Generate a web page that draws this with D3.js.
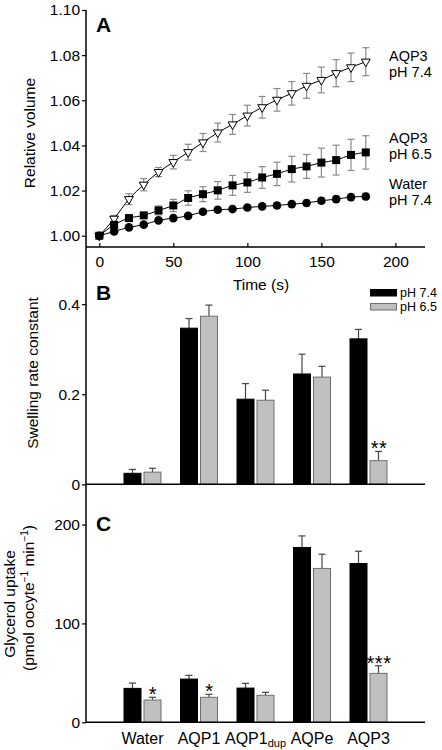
<!DOCTYPE html>
<html><head><meta charset="utf-8">
<script src="https://cdn.jsdelivr.net/npm/d3@7"></script>
<style>
html,body{margin:0;padding:0;background:#fff;}
svg{display:block;font-family:"Liberation Sans",Arial,Helvetica,sans-serif;}
</style></head>
<body><svg id="c" width="442" height="750"></svg>
<script>
// ---- Panel A data ----
const time = [0,10,20,30,40,50,60,70,80,90,100,110,120,130,140,150,160,170,180];
const aqp3_74 = [1.0000,1.0075,1.0162,1.0226,1.0282,1.0326,1.0370,1.0413,1.0457,1.0493,1.0532,1.0569,1.0602,1.0631,1.0664,1.0690,1.0720,1.0746,1.0771];
const aqp3_74_err = [0,0.0015,0.0024,0.0027,0.0020,0.0030,0.0035,0.0040,0.0042,0.0044,0.0046,0.0048,0.0050,0.0052,0.0055,0.0057,0.0060,0.0063,0.0062];
const aqp3_65 = [1.0000,1.0048,1.0078,1.0090,1.0112,1.0134,1.0167,1.0184,1.0201,1.0223,1.0236,1.0258,1.0274,1.0295,1.0307,1.0324,1.0335,1.0358,1.0369];
const aqp3_65_err = [0,0.0010,0.0014,0.0013,0.0020,0.0027,0.0032,0.0033,0.0039,0.0044,0.0044,0.0048,0.0052,0.0057,0.0053,0.0064,0.0066,0.0069,0.0074];
const water_74 = [1.0000,1.0019,1.0037,1.0049,1.0068,1.0078,1.0088,1.0106,1.0115,1.0118,1.0125,1.0130,1.0134,1.0140,1.0145,1.0155,1.0162,1.0171,1.0174];
const water_74_err = [0,0.0006,0.0007,0.0007,0.0008,0.0008,0.0009,0.0009,0.0010,0.0010,0.0010,0.0011,0.0011,0.0011,0.0012,0.0012,0.0013,0.0013,0.0014];
const seriesNamesA = [["AQP3","pH 7.4"],["AQP3","pH 6.5"],["Water","pH 7.4"]];
const xTicksA = [0,50,100,150,200];
const yTicksA = [1.00,1.02,1.04,1.06,1.08,1.10];

// ---- Panels B, C data ----
const categories = ["Water","AQP1","AQP1dup","AQPe","AQP3"];
const legendLabels = ["pH 7.4","pH 6.5"];
const swell_74 = [0.0244,0.3467,0.189,0.245,0.323];
const swell_74_err = [0.0086,0.0213,0.0346,0.044,0.021];
const swell_65 = [0.027,0.3733,0.1867,0.238,0.0525];
const swell_65_err = [0.0086,0.0247,0.0223,0.024,0.0205];
const swell_sig = ["","","","","**"];
const yTicksB = [0,0.2,0.4];
const glyc_74 = [34.3,43.7,34.6,176.8,160.6];
const glyc_74_err = [5.4,3.8,4.8,11.7,12.4];
const glyc_65 = [22.5,25.3,27.3,155.6,49.5];
const glyc_65_err = [2.8,3.0,3.0,14.4,7.7];
const glyc_sig = ["*","*","","","***"];
const yTicksC = [0,100,200];

const svg = d3.select("#c");
const FONT = 15.5;

// scales
const xA = d3.scaleLinear().domain([-9,220]).range([86,425]);
const yA = d3.scaleLinear().domain([0.995,1.10]).range([247,10]);
const xCat = d3.scaleLinear().domain([0,6]).range([86,425]);
const yB = d3.scaleLinear().domain([0,0.527]).range([484.3,247]);
const yC = d3.scaleLinear().domain([0,240.7]).range([722.3,484.3]);

// ---------- Panel A ----------
const gA = svg.append("g");
const series = [
  {v:aqp3_74, e:aqp3_74_err, sym:"tri"},
  {v:aqp3_65, e:aqp3_65_err, sym:"sq"},
  {v:water_74, e:water_74_err, sym:"circ"}
];
const line = d3.line().x((d,i)=>xA(time[i])).y(d=>yA(d)).curve(d3.curveMonotoneX);
series.forEach(s=>{
  const eg = gA.append("g").attr("stroke","#8a8a8a").attr("stroke-width",1.2).attr("fill","none");
  s.v.forEach((v,i)=>{
    if(!s.e[i]) return;
    const x = xA(time[i]), y1 = yA(v+s.e[i]), y2 = yA(v-s.e[i]);
    eg.append("line").attr("x1",x).attr("x2",x).attr("y1",y1).attr("y2",y2);
    eg.append("line").attr("x1",x-3.5).attr("x2",x+3.5).attr("y1",y1).attr("y2",y1);
    eg.append("line").attr("x1",x-3.5).attr("x2",x+3.5).attr("y1",y2).attr("y2",y2);
  });
});
series.forEach(s=>{
  gA.append("path").datum(s.v).attr("d",line).attr("fill","none").attr("stroke","#000").attr("stroke-width",1);
});
series.forEach(s=>{
  const g = gA.append("g");
  s.v.forEach((v,i)=>{
    const x = xA(time[i]), y = yA(v);
    if(s.sym==="circ"){
      g.append("circle").attr("cx",x).attr("cy",y).attr("r",4.3).attr("fill","#000");
    } else if(s.sym==="sq"){
      g.append("path").attr("d",d3.symbol(d3.symbolSquare,64)()).attr("transform",`translate(${x},${y})`).attr("fill","#000");
    } else {
      g.append("path").attr("d",d3.symbol(d3.symbolTriangle,34)()).attr("transform",`translate(${x},${y}) rotate(180)`).attr("fill","#fff").attr("stroke","#000").attr("stroke-width",1);
    }
  });
});
// right-hand labels
const labelOffsets = [-1,-9.5,-7.5];
series.forEach((s,k)=>{
  const yl = yA(s.v[s.v.length-1]) + labelOffsets[k];
  gA.append("text").attr("x",389).attr("y",yl).attr("font-size",14.5).text(seriesNamesA[k][0]);
  gA.append("text").attr("x",389).attr("y",yl+16.5).attr("font-size",14.5).text(seriesNamesA[k][1]);
});
// axes A
gA.append("g").attr("transform","translate(86,0)")
  .call(d3.axisLeft(yA).tickValues(yTicksA).tickFormat(d3.format(".2f")).tickSize(4).tickPadding(2));
const axAx = gA.append("g").attr("transform","translate(0,247)")
  .call(d3.axisBottom(xA).tickValues(xTicksA).tickSize(-4).tickPadding(10));
axAx.selectAll(".tick text").attr("dy","0.71em").attr("y",9);
gA.append("text").attr("x",96).attr("y",32).attr("font-size",21).attr("font-weight","bold").text("A");
gA.append("text").attr("x",261).attr("y",290).attr("text-anchor","middle").attr("font-size",FONT).text("Time (s)");
gA.append("text").attr("transform","translate(35,133) rotate(-90)").attr("text-anchor","middle").attr("font-size",FONT).text("Relative volume");

// ---------- bar panel helper ----------
function barPanel(yS, v74, e74, v65, e65, sig, ticks, fmt){
  const g = svg.append("g");
  const errG = g.append("g").attr("stroke","#444").attr("stroke-width",1.2);
  categories.forEach((c,i)=>{
    const cx = xCat(i+1);
    [[v74,e74,cx-19,"#000","#000"],[v65,e65,cx+1,"#c0c0c0","#6e6e6e"]].forEach(([v,e,x,f,st])=>{
      const top = yS(v[i]), et = yS(v[i]+e[i]);
      errG.append("line").attr("x1",x+9).attr("x2",x+9).attr("y1",top).attr("y2",et);
      errG.append("line").attr("x1",x+5.5).attr("x2",x+12.5).attr("y1",et).attr("y2",et);
      g.append("rect").attr("x",x+0.5).attr("y",top).attr("width",17).attr("height",yS(0)-top)
        .attr("fill",f).attr("stroke",st).attr("stroke-width",1);
    });
    if(sig[i]){
      g.append("text").attr("x",cx+10.5).attr("y",yS(v65[i]+e65[i])+4).attr("text-anchor","middle")
        .attr("font-size",20).attr("letter-spacing",0.5).text(sig[i]);
    }
  });
  g.append("g").attr("transform","translate(86,0)")
    .call(d3.axisLeft(yS).tickValues(ticks).tickFormat(fmt).tickSize(4).tickPadding(2));
  g.append("line").attr("x1",86).attr("x2",425).attr("y1",yS(0)).attr("y2",yS(0)).attr("stroke","#000").attr("stroke-width",1.5);
  return g;
}
const gB = barPanel(yB, swell_74, swell_74_err, swell_65, swell_65_err, swell_sig, yTicksB, d=>d===0?"0":d3.format(".1f")(d));
gB.append("text").attr("x",96).attr("y",299.5).attr("font-size",21).attr("font-weight","bold").text("B");
gB.append("text").attr("transform","translate(38,373) rotate(-90)").attr("text-anchor","middle").attr("font-size",FONT).text("Swelling rate constant");
legendLabels.forEach((l,k)=>{
  gB.append("rect").attr("x",370.5).attr("y",289.5+14*k).attr("width",26).attr("height",6.5)
    .attr("fill",k?"#c0c0c0":"#000").attr("stroke",k?"#6e6e6e":"#000").attr("stroke-width",1);
  gB.append("text").attr("x",400).attr("y",296.5+14*k).attr("font-size",12.5).text(l);
});

const gC = barPanel(yC, glyc_74, glyc_74_err, glyc_65, glyc_65_err, glyc_sig, yTicksC, d3.format("d"));
gC.append("text").attr("x",96).attr("y",531).attr("font-size",21).attr("font-weight","bold").text("C");
gC.append("text").attr("transform","translate(15,604) rotate(-90)").attr("text-anchor","middle").attr("font-size",FONT).text("Glycerol uptake");
const t2 = gC.append("text").attr("transform","translate(33.5,598) rotate(-90)").attr("text-anchor","middle").attr("font-size",FONT);
t2.append("tspan").text("(pmol oocyte");
t2.append("tspan").attr("font-size",10).attr("dy",-6).text("\u22121");
t2.append("tspan").attr("dy",6).text(" min");
t2.append("tspan").attr("font-size",10).attr("dy",-6).text("\u22121");
t2.append("tspan").attr("dy",6).text(")");
categories.forEach((c,i)=>{
  const t = gC.append("text").attr("x",xCat(i+1)).attr("y",743.5).attr("text-anchor","middle").attr("font-size",16);
  if(c.endsWith("dup")){
    t.append("tspan").text(c.slice(0,-3));
    t.append("tspan").attr("font-size",11).attr("dy",3).text("dup");
  } else t.text(c);
});

svg.append("line").attr("x1",86).attr("x2",86).attr("y1",10).attr("y2",722.3).attr("stroke","#000").attr("stroke-width",1.5);
svg.selectAll(".domain").remove();
svg.selectAll(".tick line").attr("stroke","#000").attr("stroke-width",1.2);
svg.selectAll(".tick text").attr("font-size",15.5).attr("fill","#000").attr("font-family","'Liberation Sans',Arial,sans-serif");
svg.append("line").attr("x1",86).attr("x2",425).attr("y1",247).attr("y2",247).attr("stroke","#000").attr("stroke-width",1.5);
</script></body></html>
